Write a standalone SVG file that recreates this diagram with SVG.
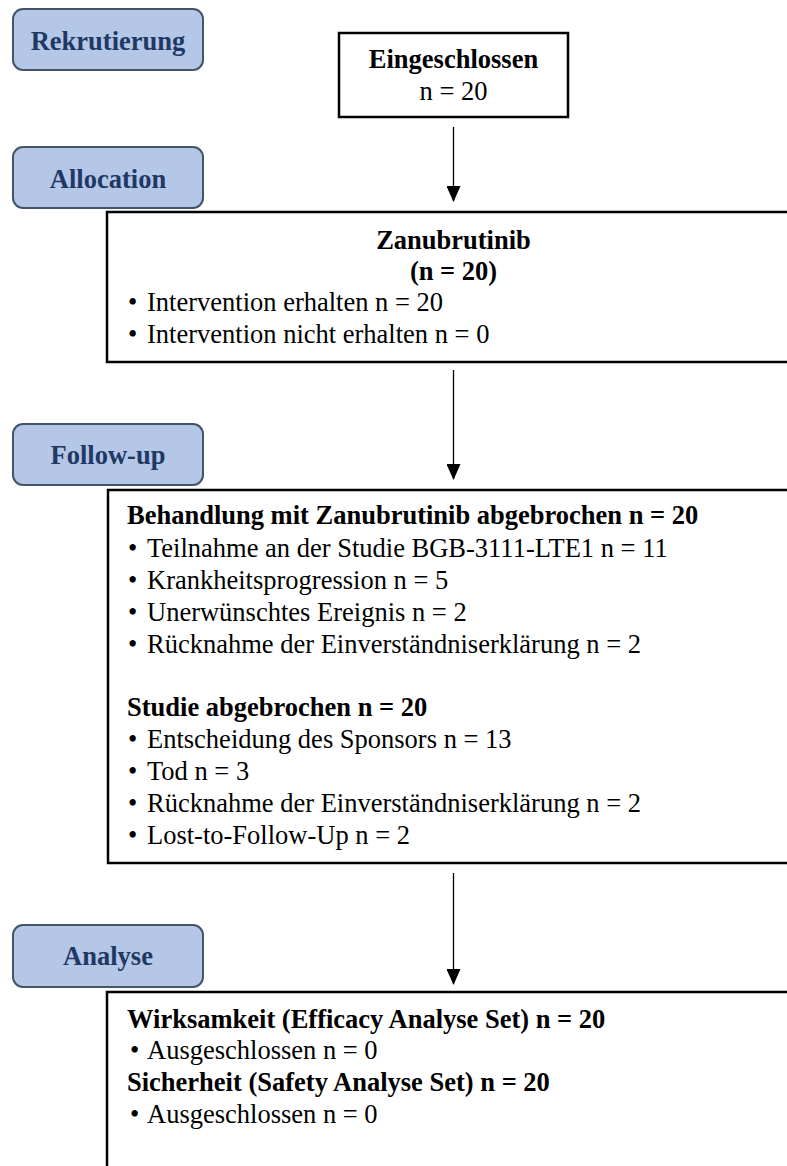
<svg xmlns="http://www.w3.org/2000/svg" width="787" height="1166" viewBox="0 0 787 1166" font-family="'Liberation Serif', 'Times New Roman', Times, serif">
<defs>
<style>
text{font-family:'Liberation Serif','Times New Roman',Times,serif}
.phase rect{fill:#B4C7E7;stroke:#44546A;stroke-width:2}
.phase text{font-weight:bold;font-size:26.5px;fill:#1F3864;text-anchor:middle}
.box rect{fill:#fff;stroke:#000;stroke-width:2.5}
.box text{font-size:26.5px;fill:#000}
.b{font-weight:bold}
.c{text-anchor:middle}
.conn line{stroke:#000;stroke-width:1.3}
</style>
<marker id="ah" markerWidth="16" markerHeight="14" refX="15" refY="7" orient="auto" markerUnits="userSpaceOnUse">
<path d="M0,0 L16,7 L0,14 Z" fill="#000"/>
</marker>
</defs>
<rect width="787" height="1166" fill="#fff"/>
<g id="phase-rekrutierung" class="phase"><rect x="13" y="9" width="190" height="61" rx="10"/><text x="108" y="50">Rekrutierung</text></g>
<g id="phase-allocation" class="phase"><rect x="13" y="147" width="190" height="61" rx="10"/><text x="108" y="188">Allocation</text></g>
<g id="phase-followup" class="phase"><rect x="13" y="424" width="190" height="61" rx="10"/><text x="108" y="464">Follow-up</text></g>
<g id="phase-analyse" class="phase"><rect x="13" y="925" width="190" height="62" rx="10"/><text x="108" y="965">Analyse</text></g>
<g id="connectors" class="conn">
<line x1="453.5" y1="127" x2="453.5" y2="201" marker-end="url(#ah)"/>
<line x1="453.5" y1="370" x2="453.5" y2="479" marker-end="url(#ah)"/>
<line x1="453.5" y1="873" x2="453.5" y2="984" marker-end="url(#ah)"/>
</g>
<g id="node-eingeschlossen" class="box"><rect x="339" y="33" width="229" height="84"/><text x="453.5" y="68" class="b c">Eingeschlossen</text><text x="453.5" y="100" class="c">n = 20</text></g>
<g id="node-zanubrutinib" class="box"><rect x="107" y="212" width="690" height="150"/>
<text x="453.5" y="249" class="b c">Zanubrutinib</text>
<text x="453.5" y="280" class="b c">(n = 20)</text>
<text x="128" y="311">•</text><text x="147" y="311">Intervention erhalten n = 20</text>
<text x="128" y="343">•</text><text x="147" y="343">Intervention nicht erhalten n = 0</text></g>
<g id="node-followup" class="box"><rect x="108" y="490" width="690" height="373"/>
<text x="127" y="524" class="b">Behandlung mit Zanubrutinib abgebrochen n = 20</text>
<text x="128" y="557">•</text><text x="147" y="557">Teilnahme an der Studie BGB-3111-LTE1 n = 11</text>
<text x="128" y="589">•</text><text x="147" y="589">Krankheitsprogression n = 5</text>
<text x="128" y="621">•</text><text x="147" y="621">Unerwünschtes Ereignis n = 2</text>
<text x="128" y="653">•</text><text x="147" y="653">Rücknahme der Einverständniserklärung n = 2</text>
<text x="127" y="716" class="b">Studie abgebrochen n = 20</text>
<text x="128" y="748">•</text><text x="147" y="748">Entscheidung des Sponsors n = 13</text>
<text x="128" y="780">•</text><text x="147" y="780">Tod n = 3</text>
<text x="128" y="812">•</text><text x="147" y="812">Rücknahme der Einverständniserklärung n = 2</text>
<text x="128" y="844">•</text><text x="147" y="844">Lost-to-Follow-Up n = 2</text></g>
<g id="node-analyse" class="box"><rect x="107" y="992" width="690" height="200"/>
<text x="127" y="1028" class="b">Wirksamkeit (Efficacy Analyse Set) n = 20</text>
<text x="130" y="1059">•</text><text x="147" y="1059">Ausgeschlossen n = 0</text>
<text x="127" y="1091" class="b">Sicherheit (Safety Analyse Set) n = 20</text>
<text x="130" y="1123">•</text><text x="147" y="1123">Ausgeschlossen n = 0</text></g>
</svg>
